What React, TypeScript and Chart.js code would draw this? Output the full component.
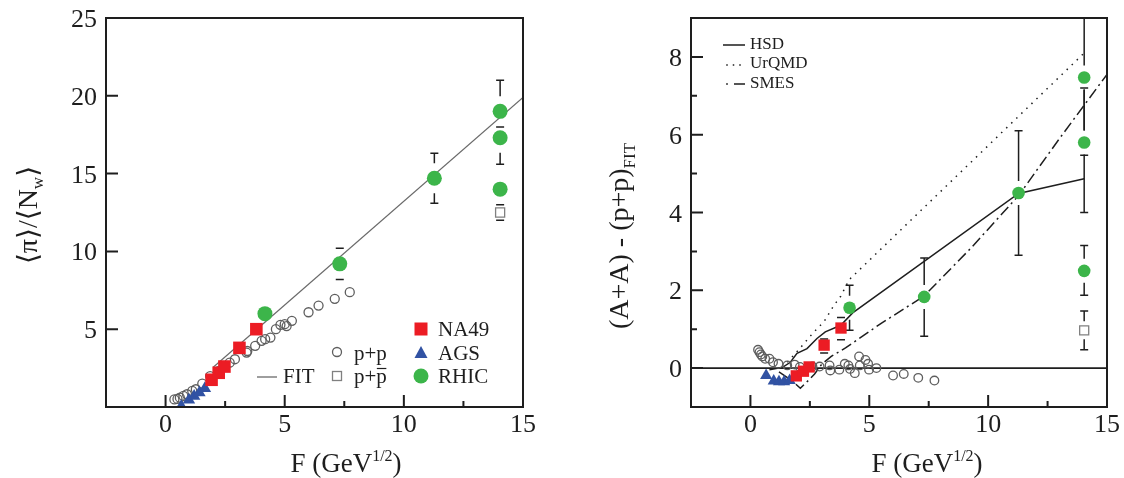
import React, { useEffect, useRef } from "react";
import { Chart, registerables } from "chart.js";

Chart.register(...registerables);

const SERIF = '"Liberation Serif", "DejaVu Serif", serif';

const INK = "#1e1e1e";
const RED = "#ec1c24";
const BLUE = "#3152a3";
const GREEN = "#3cb54a";
const GRAY = "#5e5e5e";

// ---------- tick values ----------
const xTickValues = [0, 5, 10, 15];
const xMajorTicks = [0, 5, 10];
const xMinorTicks = [2.5, 7.5, 12.5];
const leftYTickValues = [5, 10, 15, 20, 25];
const leftYMinorTicks: number[] = [];
const rightYTickValues = [0, 2, 4, 6, 8];
const rightYMinorTicks = [1, 3, 5, 7];

// ---------- left panel data ----------
const ppLeftF = [0.37, 0.5, 0.6, 0.75, 0.9, 1.12, 1.27, 1.54, 1.87, 2.24, 2.69, 2.91, 3.4, 3.43, 3.76, 4.03, 4.18, 4.4, 4.63, 4.82, 5.0, 5.08, 5.3, 6.0, 6.42, 7.1, 7.73];
const ppLeftY = [0.49, 0.52, 0.6, 0.71, 0.82, 1.03, 1.14, 1.5, 1.99, 2.32, 2.85, 3.07, 3.5, 3.6, 3.93, 4.25, 4.36, 4.46, 5.0, 5.28, 5.32, 5.2, 5.54, 6.09, 6.52, 6.95, 7.38];
const na49F = [1.93, 2.23, 2.47, 3.1, 3.81];
const na49Left = [1.75, 2.2, 2.6, 3.8, 5.0];
const agsF = [0.66, 0.98, 1.2, 1.42, 1.65];
const agsLeft = [0.05, 0.45, 0.7, 0.92, 1.2];
const rhicF = [4.17, 7.31, 11.28, 14.04, 14.04, 14.04];
const rhicLeft = [6.0, 9.2, 14.7, 19.0, 17.3, 14.0];
const rhicLeftLo = [null, 8.2, 13.1, 18.0, 15.6, null];
const rhicLeftHi = [null, 10.2, 16.3, 21.0, 18.8, null];
const ppbarF = [14.04];
const ppbarLeft = [12.5];
const ppbarLeftLo = [12.0];
const ppbarLeftHi = [13.0];
const fitF = [2.0, 15.0];
const fitY = [2.55, 19.9];

// ---------- right panel data ----------
const ppResF = [0.32, 0.38, 0.44, 0.5, 0.62, 0.8, 0.95, 1.18, 1.55, 1.86, 2.08, 2.46, 2.61, 2.91, 3.33, 3.36, 3.74, 3.97, 4.12, 4.19, 4.39, 4.57, 4.6, 4.84, 4.95, 4.99, 5.3, 6.0, 6.45, 7.06, 7.74];
const ppResY = [0.47, 0.41, 0.35, 0.3, 0.24, 0.24, 0.15, 0.11, 0.07, 0.09, 0.03, 0.03, 0.04, 0.04, 0.07, -0.06, -0.04, 0.11, 0.07, -0.02, -0.13, 0.3, 0.07, 0.21, 0.11, -0.04, 0.0, -0.19, -0.15, -0.25, -0.32];
const na49Right = [-0.2, -0.08, 0.03, 0.59, 1.03];
const na49RightLo = [null, null, null, 0.39, 0.73];
const na49RightHi = [null, null, null, 0.75, 1.3];
const agsRight = [-0.19, -0.33, -0.35, -0.35, -0.32];
const rhicRight = [1.55, 1.83, 4.5, 7.47, 5.8, 2.5];
const rhicRightLo = [0.97, 0.82, 2.9, 5.47, 4.0, 1.87];
const rhicRightHi = [2.13, 2.83, 6.1, 9.5, 7.2, 3.15];
const ppbarRight = [0.97];
const ppbarRightLo = [0.47];
const ppbarRightHi = [1.47];
const hsdF = [0.8, 1.35, 1.68, 1.96, 2.38, 2.8, 3.15, 3.8, 4.3, 11.28, 14.04];
const hsdY = [-0.04, 0.02, 0.15, 0.38, 0.5, 0.76, 0.93, 1.1, 1.42, 4.49, 4.87];
const urqmdF = [1.55, 2.0, 2.6, 3.1, 3.5, 3.8, 4.15, 14.04];
const urqmdY = [0.15, 0.45, 0.88, 1.2, 1.6, 1.85, 2.27, 8.1];
const smesF = [1.2, 1.7, 2.1, 2.45, 2.7, 3.0, 3.4, 4.0, 5.5, 7.3, 9.3, 11.3, 13.0, 15.0];
const smesY = [-0.1, -0.3, -0.52, -0.31, -0.15, 0.1, 0.3, 0.52, 1.15, 1.85, 3.1, 4.45, 5.9, 7.55];

// ---------- helpers ----------
type Bar = { x: number; lo: number; hi: number };
type Gap = { x: number; y: number; r: number };
type Seg = { t: string; size: number; dy?: number };

const pts = (xs: number[], ys: number[]) => xs.map((x, i) => ({ x, y: ys[i] }));
const bars = (xs: number[], lo: (number | null)[], hi: (number | null)[]): Bar[] =>
  xs.flatMap((x, i) => (lo[i] == null || hi[i] == null ? [] : [{ x, lo: lo[i] as number, hi: hi[i] as number }]));
const gaps = (xs: number[], ys: number[], r: number): Gap[] => xs.map((x, i) => ({ x, y: ys[i], r }));

function segWidth(ctx: CanvasRenderingContext2D, segs: Seg[]) {
  let w = 0;
  for (const s of segs) {
    ctx.font = `${s.size}px ${SERIF}`;
    w += ctx.measureText(s.t).width;
  }
  return w;
}
function drawSegs(ctx: CanvasRenderingContext2D, segs: Seg[], x: number, y: number) {
  let cx = x;
  ctx.textAlign = "left";
  ctx.textBaseline = "alphabetic";
  for (const s of segs) {
    ctx.font = `${s.size}px ${SERIF}`;
    ctx.fillText(s.t, cx, y + (s.dy || 0));
    cx += ctx.measureText(s.t).width;
  }
}
function drawCentered(ctx: CanvasRenderingContext2D, segs: Seg[], cx: number, y: number) {
  drawSegs(ctx, segs, cx - segWidth(ctx, segs) / 2, y);
}
function drawRotated(ctx: CanvasRenderingContext2D, segs: Seg[], bx: number, cy: number) {
  ctx.save();
  ctx.translate(bx, cy);
  ctx.rotate(-Math.PI / 2);
  drawSegs(ctx, segs, -segWidth(ctx, segs) / 2, 0);
  ctx.restore();
}

function drawErrorBars(chart: any, list: Bar[], gl: Gap[], cap: number) {
  const { ctx, chartArea: a, scales } = chart;
  const xs = scales.x, ys = scales.y;
  ctx.save();
  ctx.beginPath();
  ctx.rect(a.left, a.top - 1, a.right - a.left, a.bottom - a.top + 2);
  ctx.clip();
  ctx.strokeStyle = INK;
  ctx.lineWidth = 1.5;
  for (const b of list) {
    const px = xs.getPixelForValue(b.x);
    const top = ys.getPixelForValue(b.hi);
    const bot = ys.getPixelForValue(b.lo);
    const ex = gl
      .filter((g) => Math.abs(xs.getPixelForValue(g.x) - px) < 2)
      .map((g) => {
        const py = ys.getPixelForValue(g.y);
        return [py - g.r, py + g.r];
      })
      .sort((p, q) => p[0] - q[0]);
    ctx.beginPath();
    let cur = top;
    for (const [s, e] of ex) {
      if (e <= cur) continue;
      if (s >= bot) break;
      if (s > cur) {
        ctx.moveTo(px, cur);
        ctx.lineTo(px, s);
      }
      cur = Math.max(cur, e);
    }
    if (cur < bot) {
      ctx.moveTo(px, cur);
      ctx.lineTo(px, bot);
    }
    ctx.moveTo(px - cap, top);
    ctx.lineTo(px + cap, top);
    ctx.moveTo(px - cap, bot);
    ctx.lineTo(px + cap, bot);
    ctx.stroke();
  }
  ctx.restore();
}

function decorPlugin(o: {
  bars: Bar[];
  gaps: Gap[];
  zeroLine?: boolean;
  yLabels: number[];
  yMajor: number[];
  yMinor: number[];
  text: (ctx: CanvasRenderingContext2D) => void;
}) {
  return {
    id: "decor",
    beforeDatasetsDraw(chart: any) {
      const { ctx, chartArea: a, scales } = chart;
      if (o.zeroLine) {
        const y0 = scales.y.getPixelForValue(0);
        ctx.save();
        ctx.strokeStyle = INK;
        ctx.lineWidth = 1.6;
        ctx.beginPath();
        ctx.moveTo(a.left, y0);
        ctx.lineTo(a.right, y0);
        ctx.stroke();
        ctx.restore();
      }
      drawErrorBars(chart, o.bars, o.gaps, 4);
    },
    afterDatasetsDraw(chart: any) {
      const { ctx, chartArea: a, scales } = chart;
      ctx.save();
      ctx.strokeStyle = INK;
      ctx.lineWidth = 2;
      ctx.strokeRect(a.left, a.top, a.right - a.left, a.bottom - a.top);
      ctx.beginPath();
      for (const v of xMajorTicks) {
        const p = scales.x.getPixelForValue(v);
        ctx.moveTo(p, a.bottom);
        ctx.lineTo(p, a.bottom - 12);
      }
      for (const v of xMinorTicks) {
        const p = scales.x.getPixelForValue(v);
        ctx.moveTo(p, a.bottom);
        ctx.lineTo(p, a.bottom - 6);
      }
      for (const v of o.yMajor) {
        const p = scales.y.getPixelForValue(v);
        ctx.moveTo(a.left, p);
        ctx.lineTo(a.left + 12, p);
      }
      for (const v of o.yMinor) {
        const p = scales.y.getPixelForValue(v);
        ctx.moveTo(a.left, p);
        ctx.lineTo(a.left + 6, p);
      }
      ctx.stroke();
      // tick labels (serif)
      ctx.fillStyle = INK;
      ctx.font = `26px ${SERIF}`;
      ctx.textBaseline = "alphabetic";
      ctx.textAlign = "center";
      for (const v of xTickValues) {
        ctx.fillText(String(v), scales.x.getPixelForValue(v), a.bottom + 25);
      }
      ctx.textAlign = "right";
      for (const v of o.yLabels) {
        ctx.fillText(String(v), a.left - 9, scales.y.getPixelForValue(v) + 9);
      }
      o.text(ctx);
      ctx.restore();
    },
  };
}

function xAxis() {
  return {
    type: "linear",
    min: -2.5,
    max: 15,
    grid: { display: false, drawTicks: false },
    border: { display: false },
    ticks: { display: false },
    afterBuildTicks: (s: any) => {
      s.ticks = xTickValues.map((v) => ({ value: v }));
    },
    afterFit: (s: any) => {
      s.height = 71;
    },
  };
}
function yAxis(min: number, max: number, values: number[], width: number) {
  return {
    type: "linear",
    min,
    max,
    grid: { display: false, drawTicks: false },
    border: { display: false },
    ticks: { display: false },
    afterBuildTicks: (s: any) => {
      s.ticks = values.map((v) => ({ value: v }));
    },
    afterFit: (s: any) => {
      s.width = width;
    },
  };
}

const xTitle: Seg[] = [
  { t: "F (GeV", size: 27 },
  { t: "1/2", size: 16, dy: -11 },
  { t: ")", size: 27 },
];

function markerSet(label: string, data: any[], style: string, r: number, fill: string, stroke: string, bw: number) {
  return {
    label,
    data,
    showLine: false,
    pointStyle: style,
    pointRadius: r,
    pointHoverRadius: r,
    backgroundColor: fill,
    borderColor: stroke,
    pointBorderWidth: bw,
    borderWidth: bw,
  };
}
function lineSet(label: string, data: any[], color: string, width: number, dash: number[]) {
  return {
    label,
    data,
    showLine: true,
    pointRadius: 0,
    borderColor: color,
    backgroundColor: color,
    borderWidth: width,
    borderDash: dash,
    fill: false,
    tension: 0,
  };
}

function leftConfig(): any {
  const text = (ctx: CanvasRenderingContext2D) => {
    drawCentered(ctx, xTitle, 346, 472);
    drawRotated(
      ctx,
      [
        { t: "\u27E8\u03C0\u27E9/\u27E8N", size: 28 },
        { t: "w", size: 17, dy: 6 },
        { t: "\u27E9", size: 28 },
      ],
      37,
      215
    );
    // legend
    ctx.textAlign = "left";
    ctx.textBaseline = "middle";
    ctx.font = `21px ${SERIF}`;
    ctx.fillStyle = RED;
    ctx.fillRect(421 - 6.5, 329 - 6.5, 13, 13);
    ctx.fillStyle = BLUE;
    ctx.beginPath();
    ctx.moveTo(421, 346);
    ctx.lineTo(427.5, 358);
    ctx.lineTo(414.5, 358);
    ctx.closePath();
    ctx.fill();
    ctx.fillStyle = GREEN;
    ctx.beginPath();
    ctx.arc(421, 376, 7.5, 0, Math.PI * 2);
    ctx.fill();
    ctx.fillStyle = INK;
    ctx.fillText("NA49", 438, 330);
    ctx.fillText("AGS", 438, 354);
    ctx.fillText("RHIC", 438, 377);
    ctx.strokeStyle = GRAY;
    ctx.lineWidth = 1.3;
    ctx.beginPath();
    ctx.arc(337, 352, 4.5, 0, Math.PI * 2);
    ctx.stroke();
    ctx.strokeStyle = "#808080";
    ctx.strokeRect(337 - 4.5, 376 - 4.5, 9, 9);
    ctx.fillText("p+p", 354, 354);
    ctx.fillText("p+p", 354, 377);
    const wp = ctx.measureText("p+").width;
    const wpp = ctx.measureText("p+p").width;
    ctx.strokeStyle = INK;
    ctx.lineWidth = 1.2;
    ctx.beginPath();
    ctx.moveTo(354 + wp + 0.5, 368.5);
    ctx.lineTo(354 + wpp - 0.5, 368.5);
    ctx.stroke();
    ctx.strokeStyle = GRAY;
    ctx.lineWidth = 1.2;
    ctx.beginPath();
    ctx.moveTo(257, 377);
    ctx.lineTo(277, 377);
    ctx.stroke();
    ctx.fillText("FIT", 283, 377);
  };
  return {
    type: "scatter",
    data: {
      datasets: [
        markerSet("RHIC", pts(rhicF, rhicLeft), "circle", 7.5, GREEN, GREEN, 0),
        markerSet("NA49", pts(na49F, na49Left), "rect", 8.9, RED, RED, 0),
        markerSet("AGS", pts(agsF, agsLeft), "triangle", 7.2, BLUE, BLUE, 0),
        markerSet("p+pbar", pts(ppbarF, ppbarLeft), "rect", 6.4, "rgba(255,255,255,1)", "#808080", 1.3),
        markerSet("p+p", pts(ppLeftF, ppLeftY), "circle", 4.5, "rgba(255,255,255,0)", GRAY, 1.3),
        lineSet("FIT", pts(fitF, fitY), "#6a6a6a", 1.2, []),
      ],
    },
    options: {
      animation: false,
      responsive: true,
      maintainAspectRatio: false,
      events: [],
      layout: { padding: { left: 0, top: 18, right: 39, bottom: 0 } },
      plugins: { legend: { display: false }, tooltip: { enabled: false } },
      scales: { x: xAxis(), y: yAxis(0, 25, leftYTickValues, 106) },
    },
    plugins: [
      decorPlugin({
        bars: [...bars(rhicF, rhicLeftLo, rhicLeftHi), ...bars(ppbarF, ppbarLeftLo, ppbarLeftHi)],
        gaps: [...gaps(rhicF, rhicLeft, 15), ...gaps(ppbarF, ppbarLeft, 9)],
        yLabels: leftYTickValues,
        yMajor: leftYTickValues,
        yMinor: leftYMinorTicks,
        text,
      }),
    ],
  };
}

function rightConfig(): any {
  const text = (ctx: CanvasRenderingContext2D) => {
    drawCentered(ctx, xTitle, 365, 472);
    drawRotated(
      ctx,
      [
        { t: "(A+A) - (p+p)", size: 28 },
        { t: "FIT", size: 17, dy: 7 },
      ],
      66,
      236
    );
    ctx.font = `17px ${SERIF}`;
    ctx.textAlign = "left";
    ctx.textBaseline = "middle";
    ctx.fillStyle = INK;
    ctx.fillText("HSD", 188, 45);
    ctx.fillText("UrQMD", 188, 64);
    ctx.fillText("SMES", 188, 84);
    ctx.strokeStyle = INK;
    ctx.lineWidth = 1.4;
    ctx.beginPath();
    ctx.moveTo(161, 45);
    ctx.lineTo(183, 45);
    ctx.moveTo(172, 84);
    ctx.lineTo(183, 84);
    ctx.stroke();
    for (const dx of [165, 171.5, 178]) ctx.fillRect(dx - 0.75, 65 - 0.75, 1.5, 1.5);
    ctx.fillRect(164.2, 83.2, 1.6, 1.6);
  };
  return {
    type: "scatter",
    data: {
      datasets: [
        markerSet("RHIC", pts(rhicF, rhicRight), "circle", 6.3, GREEN, GREEN, 0),
        markerSet("NA49", pts(na49F, na49Right), "rect", 8.0, RED, RED, 0),
        markerSet("AGS", pts(agsF, agsRight), "triangle", 7.0, BLUE, BLUE, 0),
        markerSet("p+pbar", pts(ppbarF, ppbarRight), "rect", 6.4, "rgba(255,255,255,1)", "#808080", 1.3),
        markerSet("p+p", pts(ppResF, ppResY), "circle", 4.3, "rgba(255,255,255,0)", GRAY, 1.3),
        lineSet("HSD", pts(hsdF, hsdY), INK, 1.5, []),
        lineSet("UrQMD", pts(urqmdF, urqmdY), INK, 1.5, [1.5, 5.5]),
        lineSet("SMES", pts(smesF, smesY), INK, 1.5, [11, 4, 2, 4]),
      ],
    },
    options: {
      animation: false,
      responsive: true,
      maintainAspectRatio: false,
      events: [],
      layout: { padding: { left: 0, top: 18, right: 17, bottom: 0 } },
      plugins: { legend: { display: false }, tooltip: { enabled: false } },
      scales: { x: xAxis(), y: yAxis(-1, 9, rightYTickValues, 129) },
    },
    plugins: [
      decorPlugin({
        bars: [
          ...bars(rhicF, rhicRightLo, rhicRightHi),
          ...bars(na49F, na49RightLo, na49RightHi),
          ...bars(ppbarF, ppbarRightLo, ppbarRightHi),
        ],
        gaps: [...gaps(rhicF, rhicRight, 12), ...gaps(na49F, na49Right, 11), ...gaps(ppbarF, ppbarRight, 9)],
        zeroLine: true,
        yLabels: rightYTickValues,
        yMajor: rightYTickValues,
        yMinor: rightYMinorTicks,
        text,
      }),
    ],
  };
}

export default function App() {
  const leftRef = useRef<HTMLCanvasElement>(null);
  const rightRef = useRef<HTMLCanvasElement>(null);
  useEffect(() => {
    const c1 = new Chart(leftRef.current as HTMLCanvasElement, leftConfig());
    const c2 = new Chart(rightRef.current as HTMLCanvasElement, rightConfig());
    return () => {
      c1.destroy();
      c2.destroy();
    };
  }, []);
  return (
    <div style={{ position: "fixed", left: 0, top: 0, width: 1124, height: 478, background: "#ffffff" }}>
      <div style={{ position: "absolute", left: 0, top: 0, width: 562, height: 478 }}>
        <canvas ref={leftRef} />
      </div>
      <div style={{ position: "absolute", left: 562, top: 0, width: 562, height: 478 }}>
        <canvas ref={rightRef} />
      </div>
    </div>
  );
}
